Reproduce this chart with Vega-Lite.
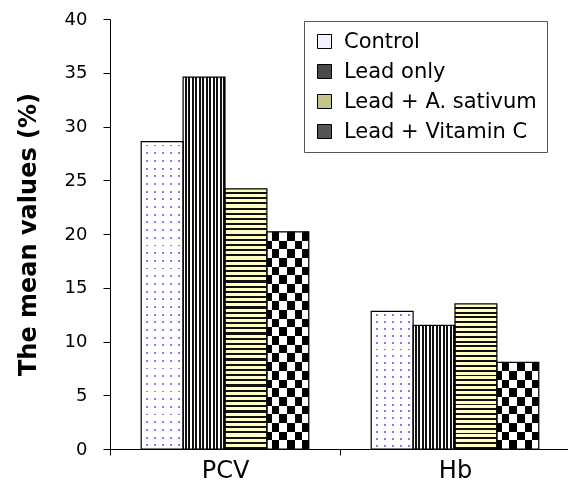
{
"$schema": "https://vega.github.io/schema/vega-lite/v6.json",
"autosize": {"type": "none"},
"padding": {"left": 110, "top": 19, "right": 0, "bottom": 37},
"width": 460,
"height": 430,
"background": "white",
"config": {"view": {"stroke": null}},
"data": {"values": [
{"measure": "PCV", "group": "Control", "value": 28.6},
{"measure": "PCV", "group": "Lead only", "value": 34.6},
{"measure": "PCV", "group": "Lead + A. sativum", "value": 24.2},
{"measure": "PCV", "group": "Lead + Vitamin C", "value": 20.2},
{"measure": "Hb", "group": "Control", "value": 12.8},
{"measure": "Hb", "group": "Lead only", "value": 11.5},
{"measure": "Hb", "group": "Lead + A. sativum", "value": 13.5},
{"measure": "Hb", "group": "Lead + Vitamin C", "value": 8.05}
]},
"encoding": {
"x": {"field": "measure", "type": "nominal", "sort": ["PCV", "Hb"], "scale": {"domain": ["PCV", "Hb"], "paddingInner": 0, "paddingOuter": 0},
 "axis": {"title": null, "labelAngle": 0, "tickBand": "extent", "labelFont": "DejaVu Sans", "labelFontSize": 24, "labelColor": "#000", "labelPadding": 3, "tickSize": 6, "domainColor": "#000", "tickColor": "#000"}},
"xOffset": {"field": "group", "type": "nominal", "sort": ["Control", "Lead only", "Lead + A. sativum", "Lead + Vitamin C"], "scale": {"domain": ["Control", "Lead only", "Lead + A. sativum", "Lead + Vitamin C"], "paddingInner": 0, "paddingOuter": 0.745}},
"y": {"field": "value", "type": "quantitative", "scale": {"domain": [0, 40], "nice": false},
 "axis": {"title": "The mean values (%)", "values": [0, 5, 10, 15, 20, 25, 30, 35, 40], "grid": false, "domainColor": "#000", "tickColor": "#000", "tickSize": 7, "labelFont": "DejaVu Sans", "labelFontSize": 18, "labelColor": "#000", "labelPadding": 16, "titleFont": "DejaVu Sans", "titleFontWeight": "bold", "titleFontSize": 24, "titleColor": "#000", "titlePadding": 24}}
},
"layer": [
{"mark": {"type": "bar"},
 "encoding": {"color": {"field": "group", "type": "nominal", "sort": ["Control", "Lead only", "Lead + A. sativum", "Lead + Vitamin C"],
  "scale": {"domain": ["Control", "Lead only", "Lead + A. sativum", "Lead + Vitamin C"], "range": ["#f2f2ff", "#4a4a4a", "#c4c48c", "#555555"]},
  "legend": {"orient": "none", "legendX": 194, "legendY": 2, "title": null, "strokeColor": "#555", "fillColor": "#fff", "padding": 10, "rowPadding": 8, "symbolType": "square", "symbolSize": 196, "symbolStrokeColor": "#000", "symbolStrokeWidth": 1, "labelFont": "DejaVu Sans", "labelFontSize": 21, "labelColor": "#000", "labelOffset": 9, "labelLimit": 400}}}},
{"transform": [{"filter": "datum.group === 'Control'"}],
 "mark": {"type": "bar", "fill": {"gradient": "linear", "x1": 0, "y1": 0, "x2": 1, "y2": 0, "stops": [{"offset":0,"color":"#fff"},{"offset":0.12,"color":"#fff"},{"offset":0.12,"color":"#7c7cff"},{"offset":0.17,"color":"#7c7cff"},{"offset":0.17,"color":"#fff"},{"offset":0.31,"color":"#fff"},{"offset":0.31,"color":"#7c7cff"},{"offset":0.36,"color":"#7c7cff"},{"offset":0.36,"color":"#fff"},{"offset":0.5,"color":"#fff"},{"offset":0.5,"color":"#7c7cff"},{"offset":0.55,"color":"#7c7cff"},{"offset":0.55,"color":"#fff"},{"offset":0.69,"color":"#fff"},{"offset":0.69,"color":"#7c7cff"},{"offset":0.74,"color":"#7c7cff"},{"offset":0.74,"color":"#fff"},{"offset":0.88,"color":"#fff"},{"offset":0.88,"color":"#7c7cff"},{"offset":0.93,"color":"#7c7cff"},{"offset":0.93,"color":"#fff"},{"offset":1,"color":"#fff"}]}}},
{"transform": [{"filter": "datum.group === 'Control' && datum.measure === 'PCV'"}],
 "mark": {"type": "bar", "blend": "lighten", "fill": {"gradient": "linear", "x1": 0, "y1": 0, "x2": 0, "y2": 1, "stops": [
{"offset":0.01,"color":"#fff"},{"offset":0.01,"color":"#000"},{"offset":0.016,"color":"#000"},{"offset":0.016,"color":"#fff"},
{"offset":0.035,"color":"#fff"},{"offset":0.035,"color":"#000"},{"offset":0.041,"color":"#000"},{"offset":0.041,"color":"#fff"},
{"offset":0.06,"color":"#fff"},{"offset":0.06,"color":"#000"},{"offset":0.066,"color":"#000"},{"offset":0.066,"color":"#fff"},
{"offset":0.085,"color":"#fff"},{"offset":0.085,"color":"#000"},{"offset":0.091,"color":"#000"},{"offset":0.091,"color":"#fff"},
{"offset":0.11,"color":"#fff"},{"offset":0.11,"color":"#000"},{"offset":0.116,"color":"#000"},{"offset":0.116,"color":"#fff"},
{"offset":0.135,"color":"#fff"},{"offset":0.135,"color":"#000"},{"offset":0.141,"color":"#000"},{"offset":0.141,"color":"#fff"},
{"offset":0.16,"color":"#fff"},{"offset":0.16,"color":"#000"},{"offset":0.166,"color":"#000"},{"offset":0.166,"color":"#fff"},
{"offset":0.185,"color":"#fff"},{"offset":0.185,"color":"#000"},{"offset":0.191,"color":"#000"},{"offset":0.191,"color":"#fff"},
{"offset":0.21,"color":"#fff"},{"offset":0.21,"color":"#000"},{"offset":0.216,"color":"#000"},{"offset":0.216,"color":"#fff"},
{"offset":0.235,"color":"#fff"},{"offset":0.235,"color":"#000"},{"offset":0.241,"color":"#000"},{"offset":0.241,"color":"#fff"},
{"offset":0.26,"color":"#fff"},{"offset":0.26,"color":"#000"},{"offset":0.266,"color":"#000"},{"offset":0.266,"color":"#fff"},
{"offset":0.285,"color":"#fff"},{"offset":0.285,"color":"#000"},{"offset":0.291,"color":"#000"},{"offset":0.291,"color":"#fff"},
{"offset":0.31,"color":"#fff"},{"offset":0.31,"color":"#000"},{"offset":0.316,"color":"#000"},{"offset":0.316,"color":"#fff"},
{"offset":0.335,"color":"#fff"},{"offset":0.335,"color":"#000"},{"offset":0.341,"color":"#000"},{"offset":0.341,"color":"#fff"},
{"offset":0.36,"color":"#fff"},{"offset":0.36,"color":"#000"},{"offset":0.366,"color":"#000"},{"offset":0.366,"color":"#fff"},
{"offset":0.385,"color":"#fff"},{"offset":0.385,"color":"#000"},{"offset":0.391,"color":"#000"},{"offset":0.391,"color":"#fff"},
{"offset":0.41,"color":"#fff"},{"offset":0.41,"color":"#000"},{"offset":0.416,"color":"#000"},{"offset":0.416,"color":"#fff"},
{"offset":0.435,"color":"#fff"},{"offset":0.435,"color":"#000"},{"offset":0.441,"color":"#000"},{"offset":0.441,"color":"#fff"},
{"offset":0.46,"color":"#fff"},{"offset":0.46,"color":"#000"},{"offset":0.466,"color":"#000"},{"offset":0.466,"color":"#fff"},
{"offset":0.485,"color":"#fff"},{"offset":0.485,"color":"#000"},{"offset":0.491,"color":"#000"},{"offset":0.491,"color":"#fff"},
{"offset":0.51,"color":"#fff"},{"offset":0.51,"color":"#000"},{"offset":0.516,"color":"#000"},{"offset":0.516,"color":"#fff"},
{"offset":0.535,"color":"#fff"},{"offset":0.535,"color":"#000"},{"offset":0.541,"color":"#000"},{"offset":0.541,"color":"#fff"},
{"offset":0.56,"color":"#fff"},{"offset":0.56,"color":"#000"},{"offset":0.566,"color":"#000"},{"offset":0.566,"color":"#fff"},
{"offset":0.585,"color":"#fff"},{"offset":0.585,"color":"#000"},{"offset":0.591,"color":"#000"},{"offset":0.591,"color":"#fff"},
{"offset":0.61,"color":"#fff"},{"offset":0.61,"color":"#000"},{"offset":0.616,"color":"#000"},{"offset":0.616,"color":"#fff"},
{"offset":0.635,"color":"#fff"},{"offset":0.635,"color":"#000"},{"offset":0.641,"color":"#000"},{"offset":0.641,"color":"#fff"},
{"offset":0.66,"color":"#fff"},{"offset":0.66,"color":"#000"},{"offset":0.666,"color":"#000"},{"offset":0.666,"color":"#fff"},
{"offset":0.685,"color":"#fff"},{"offset":0.685,"color":"#000"},{"offset":0.691,"color":"#000"},{"offset":0.691,"color":"#fff"},
{"offset":0.71,"color":"#fff"},{"offset":0.71,"color":"#000"},{"offset":0.716,"color":"#000"},{"offset":0.716,"color":"#fff"},
{"offset":0.735,"color":"#fff"},{"offset":0.735,"color":"#000"},{"offset":0.741,"color":"#000"},{"offset":0.741,"color":"#fff"},
{"offset":0.76,"color":"#fff"},{"offset":0.76,"color":"#000"},{"offset":0.766,"color":"#000"},{"offset":0.766,"color":"#fff"},
{"offset":0.785,"color":"#fff"},{"offset":0.785,"color":"#000"},{"offset":0.791,"color":"#000"},{"offset":0.791,"color":"#fff"},
{"offset":0.81,"color":"#fff"},{"offset":0.81,"color":"#000"},{"offset":0.816,"color":"#000"},{"offset":0.816,"color":"#fff"},
{"offset":0.835,"color":"#fff"},{"offset":0.835,"color":"#000"},{"offset":0.841,"color":"#000"},{"offset":0.841,"color":"#fff"},
{"offset":0.86,"color":"#fff"},{"offset":0.86,"color":"#000"},{"offset":0.866,"color":"#000"},{"offset":0.866,"color":"#fff"},
{"offset":0.885,"color":"#fff"},{"offset":0.885,"color":"#000"},{"offset":0.891,"color":"#000"},{"offset":0.891,"color":"#fff"},
{"offset":0.91,"color":"#fff"},{"offset":0.91,"color":"#000"},{"offset":0.916,"color":"#000"},{"offset":0.916,"color":"#fff"},
{"offset":0.935,"color":"#fff"},{"offset":0.935,"color":"#000"},{"offset":0.941,"color":"#000"},{"offset":0.941,"color":"#fff"},
{"offset":0.96,"color":"#fff"},{"offset":0.96,"color":"#000"},{"offset":0.966,"color":"#000"},{"offset":0.966,"color":"#fff"},
{"offset":0.985,"color":"#fff"},{"offset":0.985,"color":"#000"},{"offset":0.991,"color":"#000"},{"offset":0.991,"color":"#fff"}
]}}},
{"transform": [{"filter": "datum.group === 'Control' && datum.measure === 'Hb'"}],
 "mark": {"type": "bar", "blend": "lighten", "fill": {"gradient": "linear", "x1": 0, "y1": 0, "x2": 0, "y2": 1, "stops": [
{"offset":0.02,"color":"#fff"},{"offset":0.02,"color":"#000"},{"offset":0.034,"color":"#000"},{"offset":0.034,"color":"#fff"},
{"offset":0.07,"color":"#fff"},{"offset":0.07,"color":"#000"},{"offset":0.084,"color":"#000"},{"offset":0.084,"color":"#fff"},
{"offset":0.12,"color":"#fff"},{"offset":0.12,"color":"#000"},{"offset":0.134,"color":"#000"},{"offset":0.134,"color":"#fff"},
{"offset":0.17,"color":"#fff"},{"offset":0.17,"color":"#000"},{"offset":0.184,"color":"#000"},{"offset":0.184,"color":"#fff"},
{"offset":0.22,"color":"#fff"},{"offset":0.22,"color":"#000"},{"offset":0.234,"color":"#000"},{"offset":0.234,"color":"#fff"},
{"offset":0.27,"color":"#fff"},{"offset":0.27,"color":"#000"},{"offset":0.284,"color":"#000"},{"offset":0.284,"color":"#fff"},
{"offset":0.32,"color":"#fff"},{"offset":0.32,"color":"#000"},{"offset":0.334,"color":"#000"},{"offset":0.334,"color":"#fff"},
{"offset":0.37,"color":"#fff"},{"offset":0.37,"color":"#000"},{"offset":0.384,"color":"#000"},{"offset":0.384,"color":"#fff"},
{"offset":0.42,"color":"#fff"},{"offset":0.42,"color":"#000"},{"offset":0.434,"color":"#000"},{"offset":0.434,"color":"#fff"},
{"offset":0.47,"color":"#fff"},{"offset":0.47,"color":"#000"},{"offset":0.484,"color":"#000"},{"offset":0.484,"color":"#fff"},
{"offset":0.52,"color":"#fff"},{"offset":0.52,"color":"#000"},{"offset":0.534,"color":"#000"},{"offset":0.534,"color":"#fff"},
{"offset":0.57,"color":"#fff"},{"offset":0.57,"color":"#000"},{"offset":0.584,"color":"#000"},{"offset":0.584,"color":"#fff"},
{"offset":0.62,"color":"#fff"},{"offset":0.62,"color":"#000"},{"offset":0.634,"color":"#000"},{"offset":0.634,"color":"#fff"},
{"offset":0.67,"color":"#fff"},{"offset":0.67,"color":"#000"},{"offset":0.684,"color":"#000"},{"offset":0.684,"color":"#fff"},
{"offset":0.72,"color":"#fff"},{"offset":0.72,"color":"#000"},{"offset":0.734,"color":"#000"},{"offset":0.734,"color":"#fff"},
{"offset":0.77,"color":"#fff"},{"offset":0.77,"color":"#000"},{"offset":0.784,"color":"#000"},{"offset":0.784,"color":"#fff"},
{"offset":0.82,"color":"#fff"},{"offset":0.82,"color":"#000"},{"offset":0.834,"color":"#000"},{"offset":0.834,"color":"#fff"},
{"offset":0.87,"color":"#fff"},{"offset":0.87,"color":"#000"},{"offset":0.884,"color":"#000"},{"offset":0.884,"color":"#fff"},
{"offset":0.92,"color":"#fff"},{"offset":0.92,"color":"#000"},{"offset":0.934,"color":"#000"},{"offset":0.934,"color":"#fff"},
{"offset":0.97,"color":"#fff"},{"offset":0.97,"color":"#000"},{"offset":0.984,"color":"#000"},{"offset":0.984,"color":"#fff"}
]}}},
{"transform": [{"filter": "datum.group === 'Lead only'"}],
 "mark": {"type": "bar", "fill": {"gradient": "linear", "x1": 0, "y1": 0, "x2": 1, "y2": 0, "stops": [{"offset":0,"color":"#fff"},{"offset":0.0417,"color":"#fff"},{"offset":0.0417,"color":"#111"},{"offset":0.0833,"color":"#111"},{"offset":0.0833,"color":"#fff"},{"offset":0.125,"color":"#fff"},{"offset":0.125,"color":"#111"},{"offset":0.1667,"color":"#111"},{"offset":0.1667,"color":"#fff"},{"offset":0.2083,"color":"#fff"},{"offset":0.2083,"color":"#111"},{"offset":0.25,"color":"#111"},{"offset":0.25,"color":"#fff"},{"offset":0.2917,"color":"#fff"},{"offset":0.2917,"color":"#111"},{"offset":0.3333,"color":"#111"},{"offset":0.3333,"color":"#fff"},{"offset":0.375,"color":"#fff"},{"offset":0.375,"color":"#111"},{"offset":0.4167,"color":"#111"},{"offset":0.4167,"color":"#fff"},{"offset":0.4583,"color":"#fff"},{"offset":0.4583,"color":"#111"},{"offset":0.5,"color":"#111"},{"offset":0.5,"color":"#fff"},{"offset":0.5417,"color":"#fff"},{"offset":0.5417,"color":"#111"},{"offset":0.5833,"color":"#111"},{"offset":0.5833,"color":"#fff"},{"offset":0.625,"color":"#fff"},{"offset":0.625,"color":"#111"},{"offset":0.6667,"color":"#111"},{"offset":0.6667,"color":"#fff"},{"offset":0.7083,"color":"#fff"},{"offset":0.7083,"color":"#111"},{"offset":0.75,"color":"#111"},{"offset":0.75,"color":"#fff"},{"offset":0.7917,"color":"#fff"},{"offset":0.7917,"color":"#111"},{"offset":0.8333,"color":"#111"},{"offset":0.8333,"color":"#fff"},{"offset":0.875,"color":"#fff"},{"offset":0.875,"color":"#111"},{"offset":0.9167,"color":"#111"},{"offset":0.9167,"color":"#fff"},{"offset":0.9583,"color":"#fff"},{"offset":0.9583,"color":"#111"},{"offset":1,"color":"#111"}]}}},
{"transform": [{"filter": "datum.group === 'Lead + A. sativum' && datum.measure === 'PCV'"}],
 "mark": {"type": "bar", "fill": {"gradient": "linear", "x1": 0, "y1": 0, "x2": 0, "y2": 1, "stops": [
{"offset":0,"color":"#ffffc4"},{"offset":0.012,"color":"#ffffc4"},{"offset":0.012,"color":"#111"},{"offset":0.02,"color":"#111"},
{"offset":0.02,"color":"#ffffc4"},{"offset":0.032,"color":"#ffffc4"},{"offset":0.032,"color":"#111"},{"offset":0.04,"color":"#111"},
{"offset":0.04,"color":"#ffffc4"},{"offset":0.052,"color":"#ffffc4"},{"offset":0.052,"color":"#111"},{"offset":0.06,"color":"#111"},
{"offset":0.06,"color":"#ffffc4"},{"offset":0.072,"color":"#ffffc4"},{"offset":0.072,"color":"#111"},{"offset":0.08,"color":"#111"},
{"offset":0.08,"color":"#ffffc4"},{"offset":0.092,"color":"#ffffc4"},{"offset":0.092,"color":"#111"},{"offset":0.1,"color":"#111"},
{"offset":0.1,"color":"#ffffc4"},{"offset":0.112,"color":"#ffffc4"},{"offset":0.112,"color":"#111"},{"offset":0.12,"color":"#111"},
{"offset":0.12,"color":"#ffffc4"},{"offset":0.132,"color":"#ffffc4"},{"offset":0.132,"color":"#111"},{"offset":0.14,"color":"#111"},
{"offset":0.14,"color":"#ffffc4"},{"offset":0.152,"color":"#ffffc4"},{"offset":0.152,"color":"#111"},{"offset":0.16,"color":"#111"},
{"offset":0.16,"color":"#ffffc4"},{"offset":0.172,"color":"#ffffc4"},{"offset":0.172,"color":"#111"},{"offset":0.18,"color":"#111"},
{"offset":0.18,"color":"#ffffc4"},{"offset":0.192,"color":"#ffffc4"},{"offset":0.192,"color":"#111"},{"offset":0.2,"color":"#111"},
{"offset":0.2,"color":"#ffffc4"},{"offset":0.212,"color":"#ffffc4"},{"offset":0.212,"color":"#111"},{"offset":0.22,"color":"#111"},
{"offset":0.22,"color":"#ffffc4"},{"offset":0.232,"color":"#ffffc4"},{"offset":0.232,"color":"#111"},{"offset":0.24,"color":"#111"},
{"offset":0.24,"color":"#ffffc4"},{"offset":0.252,"color":"#ffffc4"},{"offset":0.252,"color":"#111"},{"offset":0.26,"color":"#111"},
{"offset":0.26,"color":"#ffffc4"},{"offset":0.272,"color":"#ffffc4"},{"offset":0.272,"color":"#111"},{"offset":0.28,"color":"#111"},
{"offset":0.28,"color":"#ffffc4"},{"offset":0.292,"color":"#ffffc4"},{"offset":0.292,"color":"#111"},{"offset":0.3,"color":"#111"},
{"offset":0.3,"color":"#ffffc4"},{"offset":0.312,"color":"#ffffc4"},{"offset":0.312,"color":"#111"},{"offset":0.32,"color":"#111"},
{"offset":0.32,"color":"#ffffc4"},{"offset":0.332,"color":"#ffffc4"},{"offset":0.332,"color":"#111"},{"offset":0.34,"color":"#111"},
{"offset":0.34,"color":"#ffffc4"},{"offset":0.352,"color":"#ffffc4"},{"offset":0.352,"color":"#111"},{"offset":0.36,"color":"#111"},
{"offset":0.36,"color":"#ffffc4"},{"offset":0.372,"color":"#ffffc4"},{"offset":0.372,"color":"#111"},{"offset":0.38,"color":"#111"},
{"offset":0.38,"color":"#ffffc4"},{"offset":0.392,"color":"#ffffc4"},{"offset":0.392,"color":"#111"},{"offset":0.4,"color":"#111"},
{"offset":0.4,"color":"#ffffc4"},{"offset":0.412,"color":"#ffffc4"},{"offset":0.412,"color":"#111"},{"offset":0.42,"color":"#111"},
{"offset":0.42,"color":"#ffffc4"},{"offset":0.432,"color":"#ffffc4"},{"offset":0.432,"color":"#111"},{"offset":0.44,"color":"#111"},
{"offset":0.44,"color":"#ffffc4"},{"offset":0.452,"color":"#ffffc4"},{"offset":0.452,"color":"#111"},{"offset":0.46,"color":"#111"},
{"offset":0.46,"color":"#ffffc4"},{"offset":0.472,"color":"#ffffc4"},{"offset":0.472,"color":"#111"},{"offset":0.48,"color":"#111"},
{"offset":0.48,"color":"#ffffc4"},{"offset":0.492,"color":"#ffffc4"},{"offset":0.492,"color":"#111"},{"offset":0.5,"color":"#111"},
{"offset":0.5,"color":"#ffffc4"},{"offset":0.512,"color":"#ffffc4"},{"offset":0.512,"color":"#111"},{"offset":0.52,"color":"#111"},
{"offset":0.52,"color":"#ffffc4"},{"offset":0.532,"color":"#ffffc4"},{"offset":0.532,"color":"#111"},{"offset":0.54,"color":"#111"},
{"offset":0.54,"color":"#ffffc4"},{"offset":0.552,"color":"#ffffc4"},{"offset":0.552,"color":"#111"},{"offset":0.56,"color":"#111"},
{"offset":0.56,"color":"#ffffc4"},{"offset":0.572,"color":"#ffffc4"},{"offset":0.572,"color":"#111"},{"offset":0.58,"color":"#111"},
{"offset":0.58,"color":"#ffffc4"},{"offset":0.592,"color":"#ffffc4"},{"offset":0.592,"color":"#111"},{"offset":0.6,"color":"#111"},
{"offset":0.6,"color":"#ffffc4"},{"offset":0.612,"color":"#ffffc4"},{"offset":0.612,"color":"#111"},{"offset":0.62,"color":"#111"},
{"offset":0.62,"color":"#ffffc4"},{"offset":0.632,"color":"#ffffc4"},{"offset":0.632,"color":"#111"},{"offset":0.64,"color":"#111"},
{"offset":0.64,"color":"#ffffc4"},{"offset":0.652,"color":"#ffffc4"},{"offset":0.652,"color":"#111"},{"offset":0.66,"color":"#111"},
{"offset":0.66,"color":"#ffffc4"},{"offset":0.672,"color":"#ffffc4"},{"offset":0.672,"color":"#111"},{"offset":0.68,"color":"#111"},
{"offset":0.68,"color":"#ffffc4"},{"offset":0.692,"color":"#ffffc4"},{"offset":0.692,"color":"#111"},{"offset":0.7,"color":"#111"},
{"offset":0.7,"color":"#ffffc4"},{"offset":0.712,"color":"#ffffc4"},{"offset":0.712,"color":"#111"},{"offset":0.72,"color":"#111"},
{"offset":0.72,"color":"#ffffc4"},{"offset":0.732,"color":"#ffffc4"},{"offset":0.732,"color":"#111"},{"offset":0.74,"color":"#111"},
{"offset":0.74,"color":"#ffffc4"},{"offset":0.752,"color":"#ffffc4"},{"offset":0.752,"color":"#111"},{"offset":0.76,"color":"#111"},
{"offset":0.76,"color":"#ffffc4"},{"offset":0.772,"color":"#ffffc4"},{"offset":0.772,"color":"#111"},{"offset":0.78,"color":"#111"},
{"offset":0.78,"color":"#ffffc4"},{"offset":0.792,"color":"#ffffc4"},{"offset":0.792,"color":"#111"},{"offset":0.8,"color":"#111"},
{"offset":0.8,"color":"#ffffc4"},{"offset":0.812,"color":"#ffffc4"},{"offset":0.812,"color":"#111"},{"offset":0.82,"color":"#111"},
{"offset":0.82,"color":"#ffffc4"},{"offset":0.832,"color":"#ffffc4"},{"offset":0.832,"color":"#111"},{"offset":0.84,"color":"#111"},
{"offset":0.84,"color":"#ffffc4"},{"offset":0.852,"color":"#ffffc4"},{"offset":0.852,"color":"#111"},{"offset":0.86,"color":"#111"},
{"offset":0.86,"color":"#ffffc4"},{"offset":0.872,"color":"#ffffc4"},{"offset":0.872,"color":"#111"},{"offset":0.88,"color":"#111"},
{"offset":0.88,"color":"#ffffc4"},{"offset":0.892,"color":"#ffffc4"},{"offset":0.892,"color":"#111"},{"offset":0.9,"color":"#111"},
{"offset":0.9,"color":"#ffffc4"},{"offset":0.912,"color":"#ffffc4"},{"offset":0.912,"color":"#111"},{"offset":0.92,"color":"#111"},
{"offset":0.92,"color":"#ffffc4"},{"offset":0.932,"color":"#ffffc4"},{"offset":0.932,"color":"#111"},{"offset":0.94,"color":"#111"},
{"offset":0.94,"color":"#ffffc4"},{"offset":0.952,"color":"#ffffc4"},{"offset":0.952,"color":"#111"},{"offset":0.96,"color":"#111"},
{"offset":0.96,"color":"#ffffc4"},{"offset":0.972,"color":"#ffffc4"},{"offset":0.972,"color":"#111"},{"offset":0.98,"color":"#111"},
{"offset":0.98,"color":"#ffffc4"},{"offset":0.992,"color":"#ffffc4"},{"offset":0.992,"color":"#111"},{"offset":1,"color":"#111"}
]}}},
{"transform": [{"filter": "datum.group === 'Lead + A. sativum' && datum.measure === 'Hb'"}],
 "mark": {"type": "bar", "fill": {"gradient": "linear", "x1": 0, "y1": 0, "x2": 0, "y2": 1, "stops": [
{"offset":0,"color":"#ffffc4"},{"offset":0.02,"color":"#ffffc4"},{"offset":0.02,"color":"#111"},{"offset":0.0333,"color":"#111"},
{"offset":0.0333,"color":"#ffffc4"},{"offset":0.0533,"color":"#ffffc4"},{"offset":0.0533,"color":"#111"},{"offset":0.0667,"color":"#111"},
{"offset":0.0667,"color":"#ffffc4"},{"offset":0.0867,"color":"#ffffc4"},{"offset":0.0867,"color":"#111"},{"offset":0.1,"color":"#111"},
{"offset":0.1,"color":"#ffffc4"},{"offset":0.12,"color":"#ffffc4"},{"offset":0.12,"color":"#111"},{"offset":0.1333,"color":"#111"},
{"offset":0.1333,"color":"#ffffc4"},{"offset":0.1533,"color":"#ffffc4"},{"offset":0.1533,"color":"#111"},{"offset":0.1667,"color":"#111"},
{"offset":0.1667,"color":"#ffffc4"},{"offset":0.1867,"color":"#ffffc4"},{"offset":0.1867,"color":"#111"},{"offset":0.2,"color":"#111"},
{"offset":0.2,"color":"#ffffc4"},{"offset":0.22,"color":"#ffffc4"},{"offset":0.22,"color":"#111"},{"offset":0.2333,"color":"#111"},
{"offset":0.2333,"color":"#ffffc4"},{"offset":0.2533,"color":"#ffffc4"},{"offset":0.2533,"color":"#111"},{"offset":0.2667,"color":"#111"},
{"offset":0.2667,"color":"#ffffc4"},{"offset":0.2867,"color":"#ffffc4"},{"offset":0.2867,"color":"#111"},{"offset":0.3,"color":"#111"},
{"offset":0.3,"color":"#ffffc4"},{"offset":0.32,"color":"#ffffc4"},{"offset":0.32,"color":"#111"},{"offset":0.3333,"color":"#111"},
{"offset":0.3333,"color":"#ffffc4"},{"offset":0.3533,"color":"#ffffc4"},{"offset":0.3533,"color":"#111"},{"offset":0.3667,"color":"#111"},
{"offset":0.3667,"color":"#ffffc4"},{"offset":0.3867,"color":"#ffffc4"},{"offset":0.3867,"color":"#111"},{"offset":0.4,"color":"#111"},
{"offset":0.4,"color":"#ffffc4"},{"offset":0.42,"color":"#ffffc4"},{"offset":0.42,"color":"#111"},{"offset":0.4333,"color":"#111"},
{"offset":0.4333,"color":"#ffffc4"},{"offset":0.4533,"color":"#ffffc4"},{"offset":0.4533,"color":"#111"},{"offset":0.4667,"color":"#111"},
{"offset":0.4667,"color":"#ffffc4"},{"offset":0.4867,"color":"#ffffc4"},{"offset":0.4867,"color":"#111"},{"offset":0.5,"color":"#111"},
{"offset":0.5,"color":"#ffffc4"},{"offset":0.52,"color":"#ffffc4"},{"offset":0.52,"color":"#111"},{"offset":0.5333,"color":"#111"},
{"offset":0.5333,"color":"#ffffc4"},{"offset":0.5533,"color":"#ffffc4"},{"offset":0.5533,"color":"#111"},{"offset":0.5667,"color":"#111"},
{"offset":0.5667,"color":"#ffffc4"},{"offset":0.5867,"color":"#ffffc4"},{"offset":0.5867,"color":"#111"},{"offset":0.6,"color":"#111"},
{"offset":0.6,"color":"#ffffc4"},{"offset":0.62,"color":"#ffffc4"},{"offset":0.62,"color":"#111"},{"offset":0.6333,"color":"#111"},
{"offset":0.6333,"color":"#ffffc4"},{"offset":0.6533,"color":"#ffffc4"},{"offset":0.6533,"color":"#111"},{"offset":0.6667,"color":"#111"},
{"offset":0.6667,"color":"#ffffc4"},{"offset":0.6867,"color":"#ffffc4"},{"offset":0.6867,"color":"#111"},{"offset":0.7,"color":"#111"},
{"offset":0.7,"color":"#ffffc4"},{"offset":0.72,"color":"#ffffc4"},{"offset":0.72,"color":"#111"},{"offset":0.7333,"color":"#111"},
{"offset":0.7333,"color":"#ffffc4"},{"offset":0.7533,"color":"#ffffc4"},{"offset":0.7533,"color":"#111"},{"offset":0.7667,"color":"#111"},
{"offset":0.7667,"color":"#ffffc4"},{"offset":0.7867,"color":"#ffffc4"},{"offset":0.7867,"color":"#111"},{"offset":0.8,"color":"#111"},
{"offset":0.8,"color":"#ffffc4"},{"offset":0.82,"color":"#ffffc4"},{"offset":0.82,"color":"#111"},{"offset":0.8333,"color":"#111"},
{"offset":0.8333,"color":"#ffffc4"},{"offset":0.8533,"color":"#ffffc4"},{"offset":0.8533,"color":"#111"},{"offset":0.8667,"color":"#111"},
{"offset":0.8667,"color":"#ffffc4"},{"offset":0.8867,"color":"#ffffc4"},{"offset":0.8867,"color":"#111"},{"offset":0.9,"color":"#111"},
{"offset":0.9,"color":"#ffffc4"},{"offset":0.92,"color":"#ffffc4"},{"offset":0.92,"color":"#111"},{"offset":0.9333,"color":"#111"},
{"offset":0.9333,"color":"#ffffc4"},{"offset":0.9533,"color":"#ffffc4"},{"offset":0.9533,"color":"#111"},{"offset":0.9667,"color":"#111"},
{"offset":0.9667,"color":"#ffffc4"},{"offset":0.9867,"color":"#ffffc4"},{"offset":0.9867,"color":"#111"},{"offset":1,"color":"#111"}
]}}},
{"transform": [{"filter": "datum.group === 'Lead + Vitamin C'"}],
 "mark": {"type": "bar", "fill": {"gradient": "linear", "x1": 0, "y1": 0, "x2": 1, "y2": 0, "stops": [{"offset":0,"color":"#fff"},{"offset":0.12,"color":"#fff"},{"offset":0.12,"color":"#000"},{"offset":0.3,"color":"#000"},{"offset":0.3,"color":"#fff"},{"offset":0.48,"color":"#fff"},{"offset":0.48,"color":"#000"},{"offset":0.66,"color":"#000"},{"offset":0.66,"color":"#fff"},{"offset":0.84,"color":"#fff"},{"offset":0.84,"color":"#000"},{"offset":1,"color":"#000"}]}}},
{"transform": [{"filter": "datum.group === 'Lead + Vitamin C' && datum.measure === 'PCV'"}],
 "mark": {"type": "bar", "blend": "difference", "fill": {"gradient": "linear", "x1": 0, "y1": 0, "x2": 0, "y2": 1, "stops": [{"offset":0,"color":"#000"},{"offset":0.04,"color":"#000"},{"offset":0.04,"color":"#fff"},{"offset":0.08,"color":"#fff"},{"offset":0.08,"color":"#000"},{"offset":0.12,"color":"#000"},{"offset":0.12,"color":"#fff"},{"offset":0.16,"color":"#fff"},{"offset":0.16,"color":"#000"},{"offset":0.2,"color":"#000"},{"offset":0.2,"color":"#fff"},{"offset":0.24,"color":"#fff"},{"offset":0.24,"color":"#000"},{"offset":0.28,"color":"#000"},{"offset":0.28,"color":"#fff"},{"offset":0.32,"color":"#fff"},{"offset":0.32,"color":"#000"},{"offset":0.36,"color":"#000"},{"offset":0.36,"color":"#fff"},{"offset":0.4,"color":"#fff"},{"offset":0.4,"color":"#000"},{"offset":0.44,"color":"#000"},{"offset":0.44,"color":"#fff"},{"offset":0.48,"color":"#fff"},{"offset":0.48,"color":"#000"},{"offset":0.52,"color":"#000"},{"offset":0.52,"color":"#fff"},{"offset":0.56,"color":"#fff"},{"offset":0.56,"color":"#000"},{"offset":0.6,"color":"#000"},{"offset":0.6,"color":"#fff"},{"offset":0.64,"color":"#fff"},{"offset":0.64,"color":"#000"},{"offset":0.68,"color":"#000"},{"offset":0.68,"color":"#fff"},{"offset":0.72,"color":"#fff"},{"offset":0.72,"color":"#000"},{"offset":0.76,"color":"#000"},{"offset":0.76,"color":"#fff"},{"offset":0.8,"color":"#fff"},{"offset":0.8,"color":"#000"},{"offset":0.84,"color":"#000"},{"offset":0.84,"color":"#fff"},{"offset":0.88,"color":"#fff"},{"offset":0.88,"color":"#000"},{"offset":0.92,"color":"#000"},{"offset":0.92,"color":"#fff"},{"offset":0.96,"color":"#fff"},{"offset":0.96,"color":"#000"},{"offset":1,"color":"#000"}]}}},
{"transform": [{"filter": "datum.group === 'Lead + Vitamin C' && datum.measure === 'Hb'"}],
 "mark": {"type": "bar", "blend": "difference", "fill": {"gradient": "linear", "x1": 0, "y1": 0, "x2": 0, "y2": 1, "stops": [{"offset":0,"color":"#000"},{"offset":0.1,"color":"#000"},{"offset":0.1,"color":"#fff"},{"offset":0.2,"color":"#fff"},{"offset":0.2,"color":"#000"},{"offset":0.3,"color":"#000"},{"offset":0.3,"color":"#fff"},{"offset":0.4,"color":"#fff"},{"offset":0.4,"color":"#000"},{"offset":0.5,"color":"#000"},{"offset":0.5,"color":"#fff"},{"offset":0.6,"color":"#fff"},{"offset":0.6,"color":"#000"},{"offset":0.7,"color":"#000"},{"offset":0.7,"color":"#fff"},{"offset":0.8,"color":"#fff"},{"offset":0.8,"color":"#000"},{"offset":0.9,"color":"#000"},{"offset":0.9,"color":"#fff"},{"offset":1,"color":"#fff"}]}}},
{"mark": {"type": "bar", "fillOpacity": 0, "stroke": "#000", "strokeWidth": 1.2}}
]
}
